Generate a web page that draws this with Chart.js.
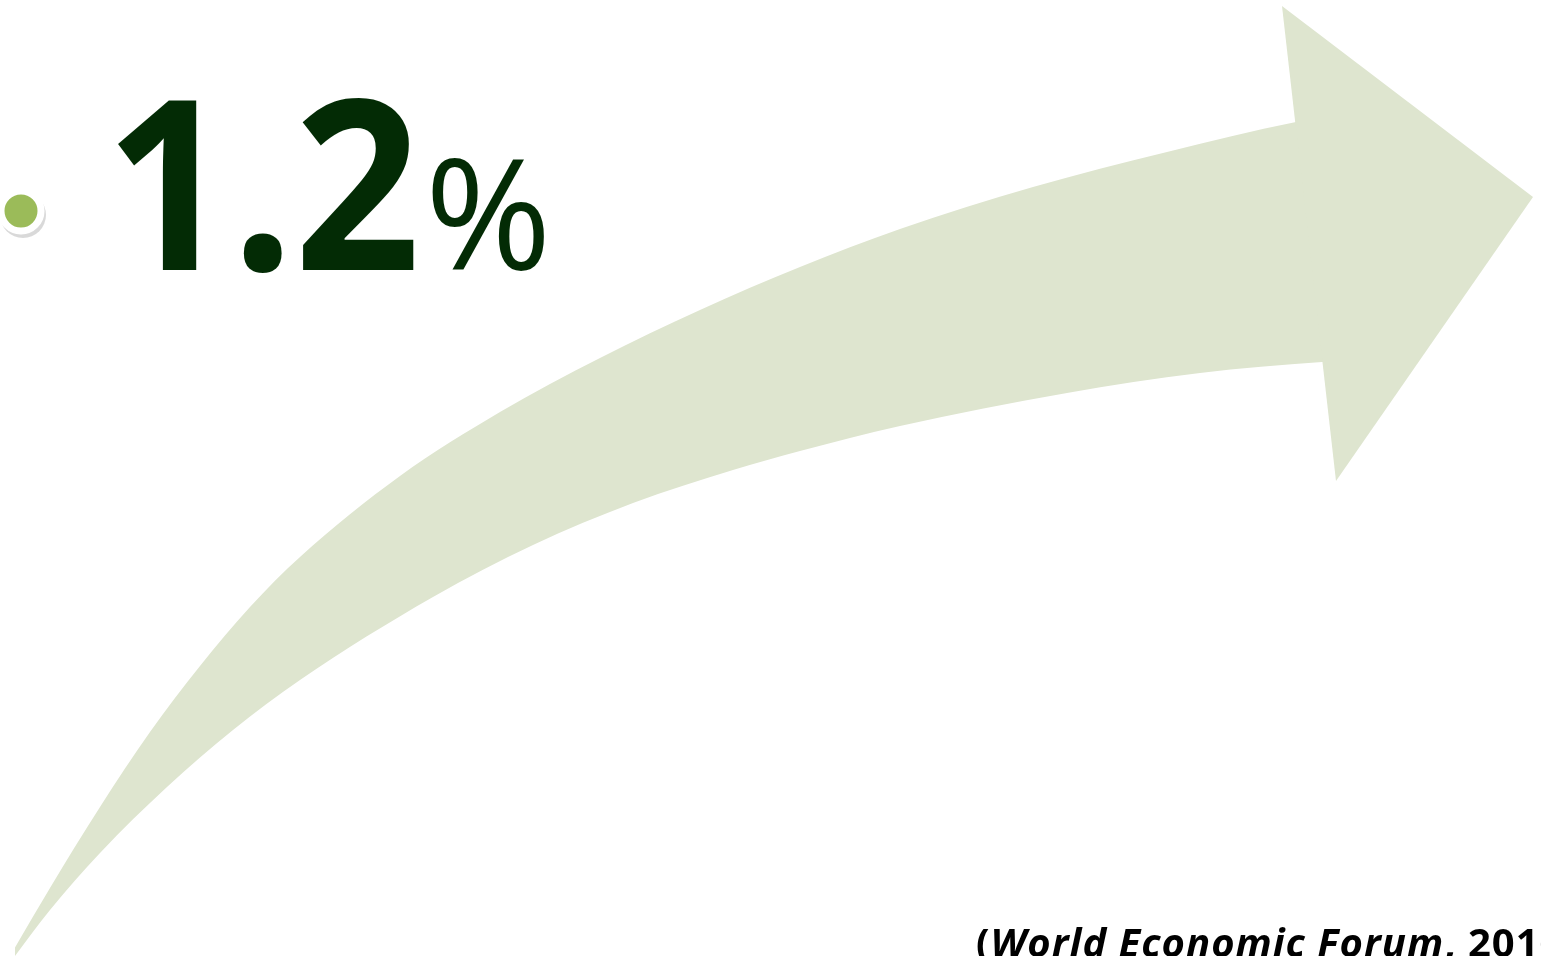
<!DOCTYPE html>
<html>
<head>
<meta charset="utf-8">
<script src="https://cdn.jsdelivr.net/npm/chart.js@4/dist/chart.umd.min.js"></script>
<style>
    html, body { margin: 0; padding: 0; background: #fff; overflow: hidden; }
    #wrap { position: relative; width: 1541px; height: 956px; overflow: hidden; }
    #big, #pct {
        position: absolute; font-family: "Open Sans", sans-serif;
        line-height: 1; color: #032b05; white-space: nowrap;
    }
    #big {
        left: 105px; top: 59px; font-size: 238px; font-weight: 700;
        transform: scaleX(0.928); transform-origin: 0 0;
    }
    #pct { left: 425px; top: 134px; font-size: 153px; font-weight: 400; }
    #cite {
        position: absolute; left: 976px; top: 922px;
        font-family: "Open Sans", sans-serif; font-weight: 700;
        font-size: 40px; line-height: 1; letter-spacing: 1px;
        color: #000; white-space: nowrap;
    }
</style>
</head>
<body>
<div id="wrap">
    <canvas id="arrowChart"></canvas>
    <div id="big">1.2</div>
    <div id="pct">%</div>
    <div id="cite">(<i>World Economic Forum</i>, 2016)</div>
</div>
<script>
// arrow shaft edges (x, y in slide pixels)
// last point of each edge sits inside the arrow head
let upperX = [10, 50, 100, 150, 200, 250, 300, 400, 500, 600, 700, 800, 900, 1033, 1167, 1296, 1400];
let upperY = [956, 888, 807, 732, 666, 607, 557, 476, 412, 358, 310, 267, 229, 187, 152, 122, 106];
let lowerX = [15, 50, 100, 167, 233, 300, 433, 533, 633, 733, 800, 900, 1067, 1200, 1322, 1400];
let lowerY = [956, 910, 853, 787, 730, 680, 597, 545, 503, 470, 451, 426, 393, 373, 362, 358];

// arrow head triangle
let headX = [1282, 1533, 1336];
let headY = [6, 197, 481];

// bullet point
let bulletX = [21];
let bulletY = [211];

let toPts = (xs, ys) => xs.map((x, i) => ({ x: x, y: ys[i] }));
let shadowPts = bulletX.map((x, i) => ({ x: x + 2, y: bulletY[i] + 4 }));

let arrowFill = 'rgb(222,229,207)';
let noLine = 'rgba(0,0,0,0)';

let ctx = document.getElementById('arrowChart').getContext('2d');
let arrowChart = new Chart(ctx, {
    type: 'scatter',
    data: {
        datasets: [{
            data: toPts(upperX, upperY),
            showLine: true,
            fill: '+1',
            cubicInterpolationMode: 'monotone',
            borderWidth: 0,
            borderColor: noLine,
            backgroundColor: arrowFill,
            pointRadius: 0,
            order: 5
        }, {
            data: toPts(lowerX, lowerY),
            showLine: true,
            fill: false,
            cubicInterpolationMode: 'monotone',
            borderWidth: 0,
            borderColor: noLine,
            backgroundColor: arrowFill,
            pointRadius: 0,
            order: 4
        }, {
            data: toPts(headX, headY),
            showLine: true,
            fill: 'shape',
            tension: 0,
            borderWidth: 0,
            borderColor: noLine,
            backgroundColor: arrowFill,
            pointRadius: 0,
            order: 3
        }, {
            data: shadowPts,
            pointRadius: 23,
            pointBackgroundColor: 'rgba(0,0,0,0.15)',
            pointBorderWidth: 0,
            order: 2
        }, {
            data: toPts(bulletX, bulletY),
            pointRadius: 20,
            pointBackgroundColor: '#9bbb59',
            pointBorderColor: '#ffffff',
            pointBorderWidth: 7,
            order: 1
        }]
    },
    options: {
        responsive: true,
        maintainAspectRatio: false,
        animation: false,
        layout: { padding: 0, autoPadding: false },
        clip: false,
        scales: {
            x: { type: 'linear', min: 0, max: 1541, display: false },
            y: { type: 'linear', min: 0, max: 956, reverse: true, display: false }
        },
        plugins: {
            legend: { display: false },
            tooltip: { enabled: false }
        }
    }
});
</script>
</body>
</html>
